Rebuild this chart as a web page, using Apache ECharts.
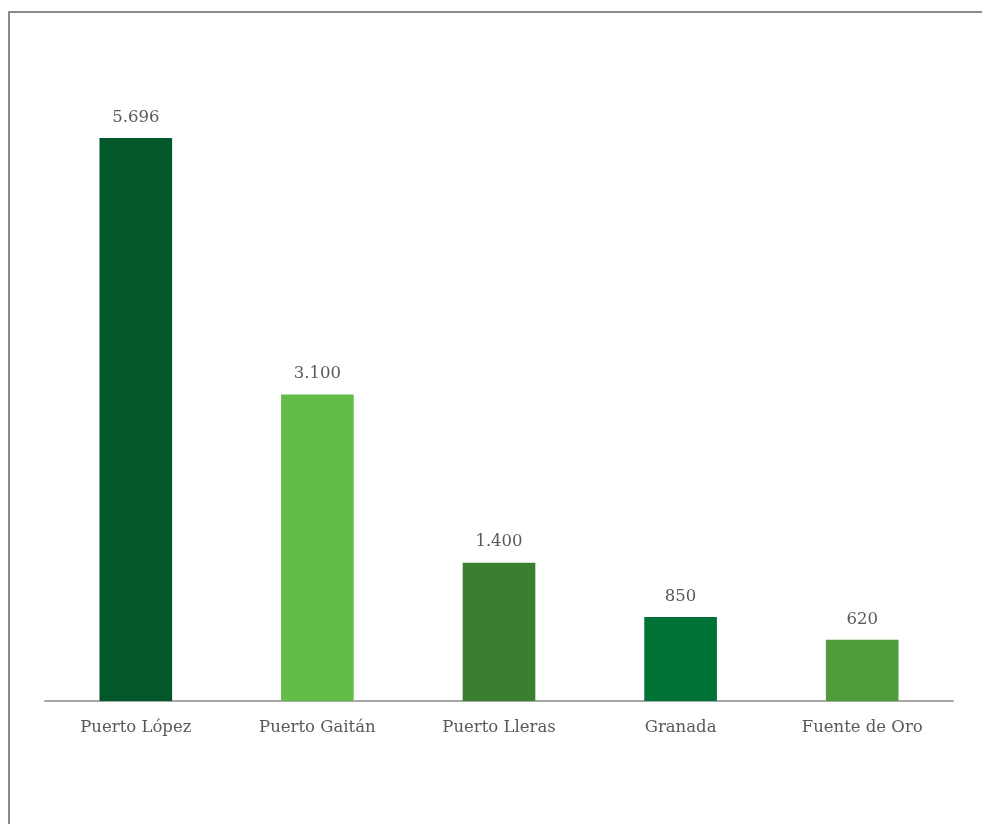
<!DOCTYPE html>
<html>
<head>
<meta charset="utf-8">
<script src="https://cdn.jsdelivr.net/npm/echarts@6/dist/echarts.min.js"></script>
<style>
html,body{margin:0;padding:0;background:#fff;}
#chart{width:982px;height:824px;}
</style>
</head>
<body>
<div id="chart"></div>
<script>
var categories = ["Puerto López","Puerto Gaitán","Puerto Lleras","Granada","Fuente de Oro"];
var values = [5696,3100,1400,850,620];
var barColors = ["#02582a","#64bc48","#3a7f30","#007235","#4e9c3c"];

//miles con punto
function toMiles(v){
	return String(v).replace(/\B(?=(\d{3})+(?!\d))/g,".");
}

var data = [];
for(var i=0;i<values.length;i++){
	data.push({value:values[i],itemStyle:{color:barColors[i]}});
}

var myChart = echarts.init(document.getElementById("chart"));
myChart.setOption({
	animation:false,
	graphic:[{
		type:"rect",
		shape:{x:9,y:12,width:1000,height:900},
		style:{fill:"none",stroke:"#8a8a8a",lineWidth:2}
	}],
	grid:{left:45,right:29,top:108,bottom:123},
	xAxis:{
		type:"category",
		data:categories,
		axisLine:{lineStyle:{color:"#a6a6a6",width:2}},
		axisTick:{show:false},
		axisLabel:{color:"#595959",fontFamily:"DejaVu Serif",fontSize:16.5,margin:18}
	},
	yAxis:{
		type:"value",min:0,max:6000,
		show:false
	},
	series:[{
		type:"bar",
		data:data,
		barWidth:"40%",
		label:{
			show:true,position:"top",distance:12,
			color:"#595959",fontFamily:"DejaVu Serif",fontSize:16.5,
			formatter:function(p){return toMiles(p.value);}
		}
	}]
});
</script>
</body>
</html>
